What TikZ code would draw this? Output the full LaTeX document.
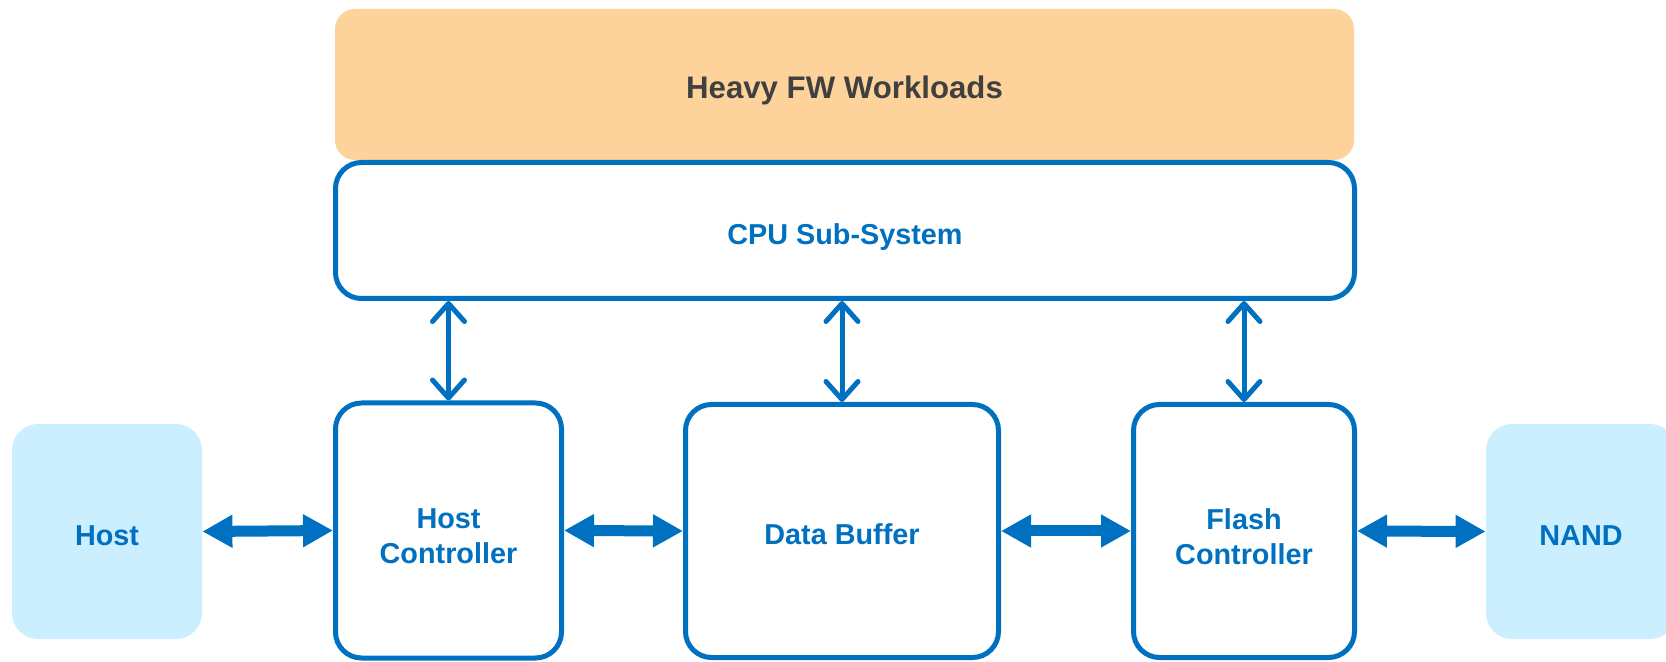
\documentclass[tikz,border=0pt]{standalone}
\usepackage{fontspec}
\setmainfont{Liberation Sans}
\usepackage{xcolor}
\usetikzlibrary{arrows.meta}
\definecolor{ssdblue}{HTML}{0070C0}
\definecolor{hostfill}{HTML}{CCEFFF}
\definecolor{fwfill}{HTML}{FED39B}
\definecolor{fwtext}{HTML}{404040}

\begin{document}
\begin{tikzpicture}[x=0.5pt, y=-0.5pt,
    label font/.style={font=\fontsize{14.4}{17.5}\selectfont\bfseries, text height=13.6pt, text depth=0pt},
    two lines/.style={text height=33.4pt, text depth=0pt},
    blockbox/.style={draw=ssdblue, line width=2.5pt, fill=white, rounded corners=13pt,
        label font, text=ssdblue, align=center, inner sep=0pt},
    endbox/.style={fill=hostfill, rounded corners=13pt, label font, text=ssdblue,
        minimum width=95pt, minimum height=107.5pt, inner sep=0pt},
    busarrow/.style={draw=ssdblue, line width=5.5pt, {Triangle[length=15pt,width=15.5pt]}-{Triangle[length=15pt,width=15.5pt]}},
    ctrlarrow/.style={draw=ssdblue, line width=2.5pt, line cap=round,
        {Straight Barb[length=9pt,width=16pt,round]}-{Straight Barb[length=9pt,width=16pt,round]}}]
\clip (0, 0) rectangle (1666, 662);

\node [fill=fwfill, rounded corners=10pt, minimum width=509.5pt, minimum height=75.5pt,
    font=\fontsize{15.6}{18}\selectfont\bfseries, text=fwtext, text height=14.3pt, text depth=0pt]
    (work) at (844.5, 84.5) {Heavy FW Workloads};
\node [blockbox, minimum width=509.5pt, minimum height=68pt] (cpu) at (845, 230.5) {CPU Sub-System};

\node [blockbox, two lines, minimum width=113pt, minimum height=127.5pt] (hostctrl) at (448.5, 530.5) {Host\\Controller};
\node [blockbox, minimum width=156.5pt, minimum height=126.5pt] (databuf) at (842, 531) {Data Buffer};
\node [blockbox, two lines, minimum width=110.5pt, minimum height=126.5pt] (flashctrl) at (1244, 531) {Flash\\Controller};

\node [endbox] (host) at (107, 531.5) {Host};
\node [endbox] (nand) at (1581, 531.5) {NAND};

\draw [busarrow] (host.east) -- (hostctrl.west);
\draw [busarrow] (hostctrl.east) -- (databuf.west);
\draw [busarrow] (databuf.east) -- (flashctrl.west);
\draw [busarrow] (flashctrl.east) -- (nand.west);

\draw [ctrlarrow] (hostctrl.north |- cpu.south) -- (hostctrl.north);
\draw [ctrlarrow] (databuf.north |- cpu.south) -- (databuf.north);
\draw [ctrlarrow] (flashctrl.north |- cpu.south) -- (flashctrl.north);
\end{tikzpicture}
\end{document}
